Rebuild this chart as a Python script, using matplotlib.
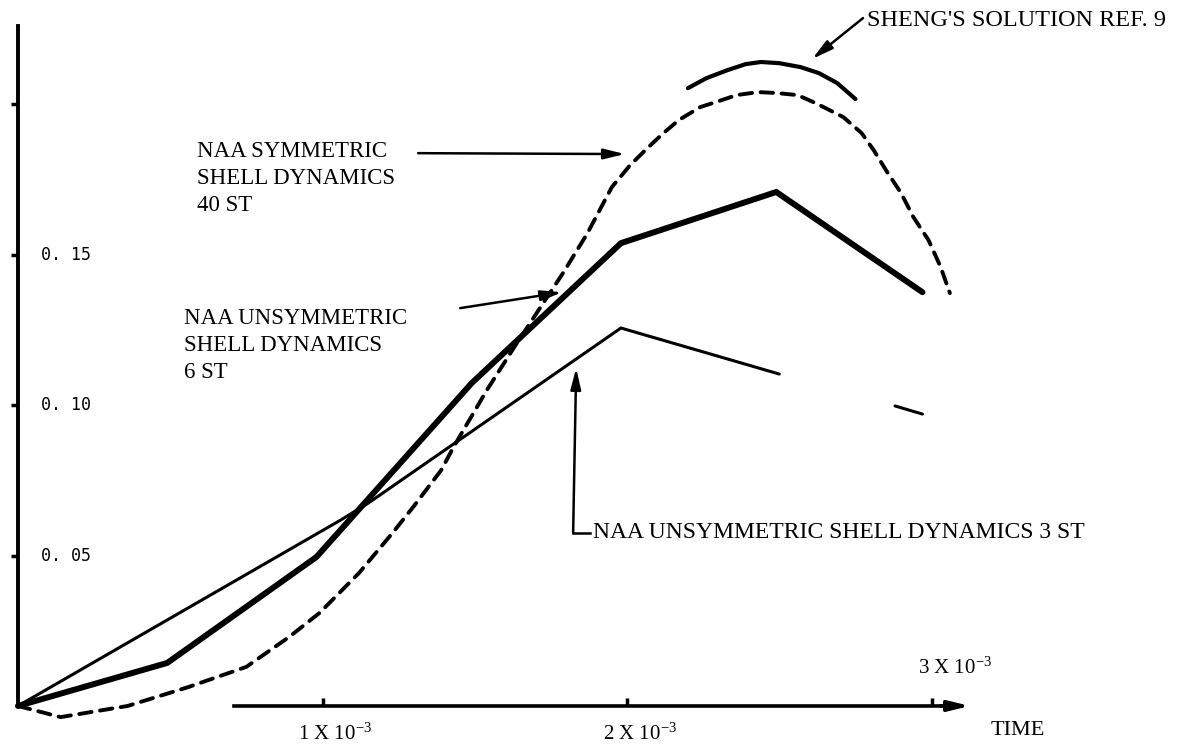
#!/usr/bin/env python3
"""
plot.py

Shell response vs. time: NAA shell dynamics runs compared
with Sheng's solution (Ref. 9). Redrawn from a scanned figure.
"""

import numpy as np
import matplotlib
matplotlib.use("Agg")
import matplotlib.pyplot as plt

# ============================================================
# DATA  (time in units of 10^-3, response)
# ============================================================

# NAA unsymmetric shell dynamics, 6 ST (heavy solid line)
time_6st = [0.0, 0.49, 0.98, 1.49, 1.98, 2.49, 2.97]
resp_6st = [0.0, 0.0143, 0.0495, 0.1073, 0.1538, 0.1708, 0.1375]

# NAA unsymmetric shell dynamics, 3 ST (light line, ink gap near 2.7)
time_3st = [0.0, 1.06, 1.15, 1.98, 2.50, 2.69, 2.88, 2.97]
resp_3st = [0.0, 0.0618, 0.0674, 0.1256, 0.1103, np.nan, 0.0997, 0.0970]

# NAA symmetric shell dynamics, 40 ST (dashed curve)
time_40st = [0.0, 0.14, 0.36, 0.56, 0.75, 0.89, 0.99, 1.12, 1.23, 1.30,
             1.39, 1.43, 1.54, 1.63, 1.71, 1.79, 1.87, 1.95, 2.01, 2.07,
             2.12, 2.17, 2.24, 2.31, 2.36, 2.43, 2.49, 2.56, 2.62, 2.71,
             2.77, 2.81, 2.85, 2.90, 2.94, 2.99, 3.03, 3.06]
resp_40st = [0.0, -0.0037, 0.0, 0.0063, 0.0130, 0.0229, 0.0309, 0.0442,
             0.0575, 0.0664, 0.0784, 0.0860, 0.1050, 0.1193, 0.1316, 0.1439,
             0.1571, 0.1724, 0.1797, 0.1857, 0.1904, 0.1947, 0.1990, 0.2013,
             0.2030, 0.2040, 0.2037, 0.2030, 0.2003, 0.1957, 0.1904, 0.1847,
             0.1781, 0.1704, 0.1625, 0.1548, 0.1458, 0.1372]

# Sheng's solution, Ref. 9 (short arc near the peak)
time_sheng = [2.20, 2.26, 2.33, 2.39, 2.44, 2.50, 2.57, 2.63, 2.69, 2.75]
resp_sheng = [0.2053, 0.2086, 0.2113, 0.2133, 0.2140, 0.2136, 0.2123,
              0.2103, 0.2070, 0.2017]

# axis ticks
y_ticks = [0.05, 0.10, 0.15, 0.20]
y_tick_labels = ["0. 05", "0. 10", "0. 15", ""]
x_ticks = [1, 2, 3]

SERIF = "Liberation Serif"
MONO = "DejaVu Sans Mono"

# ============================================================
# FIGURE
# ============================================================

def build_figure():

    fig = plt.figure(figsize=(12.02, 7.49), dpi=100)
    ax = fig.add_axes([0, 0, 1, 1])

    ax.set_xlim(-0.059, 3.888)
    ax.set_ylim(-0.0143, 0.2346)

    # --- axes -------------------------------------------------
    for side in ["top", "right"]:
        ax.spines[side].set_visible(False)

    ax.spines["left"].set_position(("data", 0))
    ax.spines["left"].set_bounds(0, 0.226)
    ax.spines["left"].set_linewidth(2.8)

    ax.spines["bottom"].set_position(("data", 0))
    ax.spines["bottom"].set_bounds(0.71, 3.08)
    ax.spines["bottom"].set_linewidth(2.6)

    ax.annotate(
        "", xy=(3.135, 0), xytext=(3.02, 0),
        arrowprops=dict(arrowstyle="-|>,head_length=0.9,head_width=0.22",
                        color="black", lw=2.6, mutation_scale=14)
    )

    ax.set_yticks(y_ticks)
    ax.set_yticklabels([])
    ax.tick_params(axis="y", direction="out", length=5, width=2.5)

    ax.set_xticks(x_ticks)
    ax.set_xticklabels([])
    ax.tick_params(axis="x", direction="in", length=6, width=2.5)

    for val, lab in zip(y_ticks, y_tick_labels):
        ax.text(0.075, val, lab, fontsize=12, family=MONO,
                ha="left", va="center")

    tick_fmt = r"{} X 10$^{{\mathregular{{-3}}}}$"
    for xt in x_ticks[:2]:
        ax.text(xt - 0.08, -0.0094, tick_fmt.format(xt), fontsize=15,
                family=SERIF, ha="left", va="center")
    ax.text(x_ticks[2] - 0.045, 0.0125, tick_fmt.format(x_ticks[2]),
            fontsize=15, family=SERIF, ha="left", va="center")

    ax.text(3.284, -0.008, "TIME", fontsize=16, family=SERIF,
            ha="center", va="center")

    # --- curves -----------------------------------------------
    ax.plot(time_6st, resp_6st, color="black", lw=4.3,
            solid_joinstyle="miter", solid_capstyle="round")

    ax.plot(time_3st, resp_3st, color="black", lw=2.2,
            solid_joinstyle="miter", solid_capstyle="round")

    ax.plot(time_40st, resp_40st, color="black", lw=2.8,
            linestyle=(0, (3.2, 2.2)), dash_capstyle="round")

    ax.plot(time_sheng, resp_sheng, color="black", lw=3.0,
            solid_capstyle="round")

    # --- annotations ------------------------------------------
    arrow = dict(arrowstyle="-|>,head_length=0.9,head_width=0.22",
                 color="black", lw=1.8, mutation_scale=14,
                 shrinkA=0, shrinkB=0)

    ax.text(0.588, 0.1754,
            "NAA SYMMETRIC\nSHELL DYNAMICS\n40 ST",
            fontsize=16.5, family=SERIF, ha="left", va="center",
            linespacing=1.37)
    ax.annotate("", xy=(1.993, 0.1834), xytext=(1.314, 0.1837),
                arrowprops=arrow)

    ax.text(0.545, 0.1199,
            "NAA UNSYMMETRIC\nSHELL DYNAMICS\n6 ST",
            fontsize=16.5, family=SERIF, ha="left", va="center",
            linespacing=1.37)
    ax.annotate("", xy=(1.787, 0.1375), xytext=(1.452, 0.1322),
                arrowprops=arrow)

    ax.plot([1.878, 1.823], [0.0575, 0.0575], color="black", lw=1.8)
    ax.annotate("", xy=(1.833, 0.1123), xytext=(1.823, 0.0575),
                arrowprops=arrow)
    ax.text(1.888, 0.0575, "NAA UNSYMMETRIC SHELL DYNAMICS 3 ST",
            fontsize=17, family=SERIF, ha="left", va="center")

    ax.annotate("", xy=(2.608, 0.2150), xytext=(2.775, 0.2286),
                arrowprops=arrow)
    ax.text(2.788, 0.2279, "SHENG'S SOLUTION REF. 9",
            fontsize=17.5, family=SERIF, ha="left", va="center")

    return fig


# ============================================================
# MAIN
# ============================================================

def main():

    plt.rcParams["mathtext.default"] = "regular"

    fig = build_figure()

    fig.savefig("out.png", dpi=100, facecolor="white")

    plt.close(fig)

    print("[INFO] Saved: out.png")


if __name__ == "__main__":
    main()
